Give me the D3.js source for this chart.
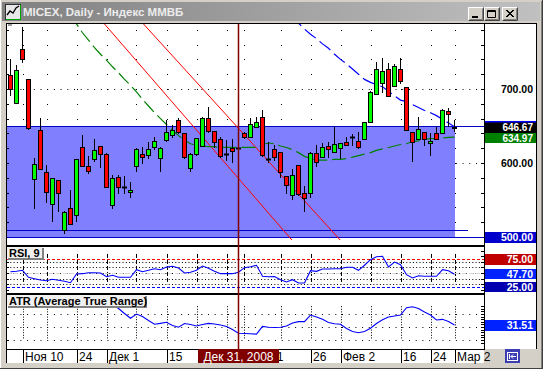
<!DOCTYPE html>
<html><head><meta charset="utf-8">
<script src="https://cdn.jsdelivr.net/npm/d3@7"></script>
<style>body{margin:0;background:#d4d0c8;overflow:hidden}svg{display:block}</style>
</head><body><svg id="c" width="543" height="369"></svg>
<script>
// ---------------- DATA ----------------
const title = "MICEX, Daily - Индекс ММВБ";
const openP  = [718.9,680.6,753.6,713.1,577.9,644.6,587.4,544.1,576.6,509.4,538.7,529.2,621.2,595.9,605.0,623.0,612.1,542.8,580.6,568.0,560.3,595.9,611.7,610.8,621.2,606.3,631.0,637.4,658.1,640.0,592.8,611.7,623.4,660.4,643.2,631.9,612.6,619.8,620.3,640.0,635.5,649.1,661.7,605.0,618.4,614.4,582.4,556.7,596.8,559.0,559.0,613.9,608.5,623.0,614.4,619.8,627.9,634.7,630.2,631.9,655.9,693.2,707.7,726.6,704.0,726.6,703.1,642.3,632.4,641.4,626.6,640.0,640.0,670.2,649.0];
const highP  = [740.1,732.4,783.3,713.1,607.2,660.4,597.3,579.3,576.6,535.1,563.5,605.0,637.8,609.4,632.4,623.0,613.9,583.8,583.3,582.4,573.8,619.8,622.0,628.8,635.5,622.0,658.1,651.3,660.4,640.0,613.1,633.3,661.7,675.2,643.2,635.5,631.0,632.4,622.0,641.4,660.4,661.7,671.6,627.9,624.3,614.4,582.4,591.4,596.8,569.3,614.4,624.3,627.4,628.8,649.1,627.4,634.7,639.2,642.3,655.9,697.3,736.0,741.4,734.7,733.8,741.4,703.1,642.3,662.6,641.4,640.0,649.1,672.9,673.9,658.1];
const lowP   = [691.9,680.6,737.0,645.5,538.7,591.4,547.7,522.0,535.6,505.0,517.5,522.0,595.9,586.0,603.1,594.1,567.1,539.6,559.0,559.0,554.5,589.6,600.4,606.3,618.4,589.6,630.1,634.7,640.0,606.3,589.6,610.8,623.4,642.3,622.0,608.5,604.0,601.8,616.6,633.3,635.5,648.2,609.4,601.8,604.0,581.5,559.0,550.9,556.7,535.6,554.5,596.4,607.6,608.5,614.4,606.3,624.3,624.3,619.8,631.9,655.9,693.2,696.4,690.5,704.0,707.7,644.6,603.1,632.4,624.3,610.8,632.4,640.0,650.4,643.7];
const closeP = [699.5,725.7,740.1,646.8,598.2,591.4,561.2,579.3,559.0,533.3,517.5,605.0,595.9,588.7,617.6,611.7,567.1,579.3,567.1,568.0,563.5,618.9,607.6,618.4,629.7,619.8,641.4,644.6,641.4,607.6,611.7,633.3,660.4,643.7,627.9,609.4,612.6,615.7,620.3,634.7,652.2,654.9,610.3,605.0,608.5,588.2,570.2,583.3,557.6,553.1,613.1,601.8,621.2,618.4,625.2,626.5,624.8,634.7,622.0,654.9,696.4,726.6,724.3,690.5,731.1,711.2,644.6,627.9,645.5,631.9,629.7,632.4,671.6,666.2,646.67];
// green dashed average: first value belongs to bar 10
const maGreenStart = 10;
const maGreen = [800,788,776,766,756,747,739,730,722,713,705,696,686,677,668,660,652,644,637,631,626,624,623,622,622,621,621,621,621,621,621,621,625,627,626,623,621,618,614,609,606,604,604,604,605,605,606,608,610,612,614,617,619,621,623,625,626,629,630,632,633,633,634,634.5,634.97];
// blue dashed average: first value belongs to bar 47
const maBlueStart = 47;
const maBlue = [800,789,781,774,768,761,755,747,740,734,727,720,713,709,706,703,697,691,685,683,679,675,671,668,664,659,654,649];
const rsi = [52.3,53.2,54.8,42.3,39.8,37.5,36.3,38.8,37.0,35.2,32.7,48.2,48.8,50.5,50.5,50.0,43.4,45.9,42.3,42.3,42.3,55.9,52.3,54.8,57.7,55.9,60.7,62.0,58.9,50.0,51.3,54.8,62.5,58.4,53.0,48.8,48.8,48.8,51.3,59.5,61.3,63.8,44.1,43.4,43.8,38.0,33.9,38.0,32.1,32.1,54.1,53.0,57.1,57.1,57.7,57.7,60.2,60.2,54.8,63.8,73.8,79.1,79.8,60.7,69.6,64.8,47.0,41.1,45.2,44.1,44.1,44.1,55.9,54.1,47.7];
const atr = [70,68,68,66,64,63,62,61,60,59,58,57,55.8,52.7,50.0,48.2,48.2,47.9,44.2,40.4,36.7,40.0,38.1,35.0,32.1,32.8,33.6,31.2,29.8,32.7,31.9,30.8,31.9,32.8,32.3,31.5,30.4,28.1,25.2,25.0,24.8,24.5,30.5,29.8,29.6,29.8,30.8,33.1,34.1,34.1,39.2,37.7,36.0,33.5,32.5,32.1,28.8,26.5,25.6,26.5,29.0,32.7,35.5,37.7,38.5,39.2,44.8,45.6,44.2,41.5,39.2,35.4,35.9,34.2,31.51];
const dateTickIdx    = [2, 11, 16, 26, 39, 50, 55, 65, 70, 74];
const dateTickLabels = ["Ноя 10","24","Дек 1","15","Янв 11","26","Фев 2","16","24","Мар 2"];
const gridIdx = [2,6,11,16,21,26,31,36,39,45,50,55,60,65,70,74];
const cursorIdx = 38, cursorLabel = "Дек 31, 2008";
const priceTicks = [500, 600, 700];
const zoneTop = 650, zoneBottom = 500, zoneEndIdx = 74;
const hLineA = 509, hLineAEndIdx = 76.25;
const channel = [[15.67, 787.8, 46.9, 495.9], [22.17, 787.8, 54.95, 495.9]];
const rsiLevels = [75, 25];
const lastRsi = 47.70, lastAtr = 31.51, lastClose = 646.67, lastGreen = 634.97;

// ---------------- LAYOUT ----------------
const W = 543, H = 369;
const L = 7, R = 484, AXR = 536;
const PT = 24, PB = 245, RT = 247, RB = 293, AT = 295, AB = 349;
const svg = d3.select("#c");
const FONT = "'Liberation Sans', Arial, sans-serif";

const x  = d3.scaleLinear().domain([0, 74]).range([10.5, 454.5]);
const yP = d3.scaleLinear().domain([500, 700]).range([237, 89]);
const yR = d3.scaleLinear().domain([25, 75]).range([287, 259]);
const yA = d3.scaleLinear().domain([20, 40]).range([340, 314]);
const px = v => Math.round(v) + 0.5;

// window frame
svg.append("rect").attr("width", W).attr("height", H).attr("fill", "#d4d0c8");
svg.append("line").attr("x1",0.5).attr("y1",0).attr("x2",0.5).attr("y2",H).attr("stroke","#fff");
svg.append("line").attr("x1",W-0.5).attr("y1",0).attr("x2",W-0.5).attr("y2",H).attr("stroke","#404040");
svg.append("line").attr("x1",0).attr("y1",H-0.5).attr("x2",W).attr("y2",H-0.5).attr("stroke","#404040");
svg.append("line").attr("x1",W-1.5).attr("y1",1).attr("x2",W-1.5).attr("y2",H-1).attr("stroke","#808080");

// title bar
const defs = svg.append("defs");
const g = defs.append("linearGradient").attr("id","tb").attr("x1","0").attr("x2","1");
g.append("stop").attr("offset","0").attr("stop-color","#808080");
g.append("stop").attr("offset","1").attr("stop-color","#c0c0c0");
svg.append("rect").attr("x",2).attr("y",2).attr("width",W-5).attr("height",19).attr("fill","url(#tb)");
// icon
svg.append("rect").attr("x",5.5).attr("y",4.5).attr("width",15).attr("height",15).attr("fill","#e8e8e8").attr("stroke","#303030");
svg.append("path").attr("d","M6,19.5 H21 M20.5,5 V20").attr("stroke","#00a000").attr("stroke-width",1);
svg.append("path").attr("d","M7,15 L10,11 L13,13 L16,8 L19,6").attr("fill","none").attr("stroke","#000").attr("stroke-width",1.3);
svg.append("text").attr("x",23).attr("y",16).attr("font-family",FONT).attr("font-weight","bold")
  .attr("font-size","11.5px").attr("fill","#ececec").text(title);
// buttons
const btns = [{x:468, s:"min"},{x:484, s:"max"},{x:502, s:"close"}];
btns.forEach(b => {
  const gg = svg.append("g").attr("transform",`translate(${b.x},7)`);
  gg.append("rect").attr("width",16).attr("height",14).attr("fill","#d4d0c8");
  gg.append("path").attr("d","M0.5,13.5 V0.5 H15.5").attr("fill","none").attr("stroke","#fff");
  gg.append("path").attr("d","M0.5,13.5 H15.5 V0.5").attr("fill","none").attr("stroke","#404040");
  gg.append("path").attr("d","M1.5,12.5 H14.5 V1.5").attr("fill","none").attr("stroke","#808080");
  if (b.s==="min") gg.append("rect").attr("x",4).attr("y",9).attr("width",6).attr("height",2).attr("fill","#000");
  if (b.s==="max") gg.append("path").attr("d","M3.5,3.5 H11.5 V10.5 H3.5 Z M3.5,4.5 H11.5").attr("fill","none").attr("stroke","#000");
  if (b.s==="close") gg.append("path").attr("d","M4,3 L11,10 M11,3 L4,10 M5,3 L12,10 M12,3 L5,10").attr("stroke","#000").attr("stroke-width",1);
});

// chart body white areas
svg.append("rect").attr("x",L).attr("y",PT).attr("width",AXR-L).attr("height",AB-PT).attr("fill","#fff");
svg.append("rect").attr("x",L).attr("y",AB+1).attr("width",R-L).attr("height",13).attr("fill","#fff");
// borders
svg.append("rect").attr("x",L-1).attr("y",PT-1).attr("width",AXR-L+2).attr("height",1).attr("fill","#000");
svg.append("rect").attr("x",L-1).attr("y",PT-1).attr("width",1).attr("height",AB-PT+15).attr("fill","#000");
svg.append("rect").attr("x",R).attr("y",PT).attr("width",1).attr("height",AB-PT+1).attr("fill","#000");
svg.append("rect").attr("x",AXR).attr("y",PT-1).attr("width",1).attr("height",AB-PT+1).attr("fill","#000");
svg.append("rect").attr("x",L+1).attr("y",PT).attr("width",4).attr("height",2).attr("fill","#a0a0a0");

// clip paths
function clip(id, y0, y1) {
  defs.append("clipPath").attr("id", id).append("rect").attr("x", L).attr("y", y0).attr("width", R - L).attr("height", y1 - y0);
}
clip("cp", PT, PB); clip("cr", RT, RB); clip("ca", AT, AB);

// ---------------- PRICE PANEL ----------------
const pg = svg.append("g").attr("clip-path", "url(#cp)");
const priceMinor = d3.range(520, 781, 20);
// grid dots
gridIdx.forEach(i => priceMinor.forEach(v => {
  pg.append("rect").attr("x", Math.round(x(i))).attr("y", Math.round(yP(v))).attr("width",1).attr("height",1).attr("fill","#000");
}));
priceTicks.forEach(v => pg.append("line").attr("x1",L).attr("x2",R).attr("y1",px(yP(v))).attr("y2",px(yP(v)))
  .attr("stroke","#000").attr("stroke-dasharray","1,5.7"));
// zone
pg.append("rect").attr("x", L).attr("y", px(yP(zoneTop))).attr("width", x(zoneEndIdx) + 0.5 - L)
  .attr("height", px(yP(zoneBottom)) - px(yP(zoneTop))).attr("fill", "#8080ff");
[[zoneTop, R], [zoneBottom, R], [hLineA, x(hLineAEndIdx)]].forEach(([v, xe]) =>
  pg.append("line").attr("x1",L).attr("x2",xe).attr("y1",px(yP(v))).attr("y2",px(yP(v))).attr("stroke","#0000c8"));
// channel lines
channel.forEach(c => pg.append("line").attr("x1",x(c[0])).attr("y1",yP(c[1])).attr("x2",x(c[2])).attr("y2",yP(c[3]))
  .attr("stroke","#ff0000").attr("stroke-width",1));
// averages
const lineP = d3.line().x(d => x(d[0])).y(d => yP(d[1]));
pg.append("path").attr("d", lineP(maGreen.map((v,k)=>[k+maGreenStart, v]))).attr("fill","none")
  .attr("stroke","#008000").attr("stroke-width",1.2).attr("stroke-dasharray","14,5");
pg.append("path").attr("d", lineP(maBlue.map((v,k)=>[k+maBlueStart, v]))).attr("fill","none")
  .attr("stroke","#0000ff").attr("stroke-width",1.2).attr("stroke-dasharray","14,5");
// candles
closeP.forEach((c, i) => {
  const o = openP[i], cx = x(i);
  pg.append("line").attr("x1",cx).attr("x2",cx).attr("y1",Math.round(yP(highP[i]))).attr("y2",Math.round(yP(lowP[i]))+1).attr("stroke","#000");
  const t = px(yP(Math.max(o,c))), b = px(yP(Math.min(o,c)));
  if (b - t < 1) {
    pg.append("line").attr("x1",cx-2.5).attr("x2",cx+2.5).attr("y1",t).attr("y2",t).attr("stroke","#000").attr("stroke-width",2);
  } else {
    pg.append("rect").attr("x",cx-2).attr("y",t).attr("width",4).attr("height",b-t)
      .attr("fill", c >= o ? "#00ff00" : "#ff0000").attr("stroke","#000");
  }
});

// ---------------- RSI PANEL ----------------
const rg = svg.append("g").attr("clip-path","url(#cr)");
d3.range(30, 80, 10).forEach(v => rg.append("line").attr("x1",L).attr("x2",R).attr("y1",px(yR(v))).attr("y2",px(yR(v)))
  .attr("stroke","#000").attr("stroke-dasharray","1,2.3"));
gridIdx.forEach(i => rg.append("line").attr("x1",Math.round(x(i))+0.5).attr("x2",Math.round(x(i))+0.5)
  .attr("y1",yR(84)).attr("y2",yR(30)).attr("stroke","#000").attr("stroke-dasharray","4,2"));
rg.append("line").attr("x1",L).attr("x2",R).attr("y1",px(yR(50))).attr("y2",px(yR(50))).attr("stroke","#d8d8d8").attr("stroke-dasharray","4,3");
rg.append("line").attr("x1",L).attr("x2",R).attr("y1",px(yR(rsiLevels[0]))).attr("y2",px(yR(rsiLevels[0]))).attr("stroke","#ff0000").attr("stroke-dasharray","3,2");
rg.append("line").attr("x1",L).attr("x2",R).attr("y1",px(yR(rsiLevels[1]))).attr("y2",px(yR(rsiLevels[1]))).attr("stroke","#0000ff").attr("stroke-dasharray","3,2");
rg.append("path").attr("d", d3.line().x((d,i)=>x(i)).y(d=>yR(d))(rsi)).attr("fill","none").attr("stroke","#0000ff").attr("stroke-width",1.1);

// ---------------- ATR PANEL ----------------
const ag = svg.append("g").attr("clip-path","url(#ca)");
[20,30,40].forEach(v => ag.append("line").attr("x1",L).attr("x2",R).attr("y1",px(yA(v))).attr("y2",px(yA(v)))
  .attr("stroke","#000").attr("stroke-dasharray","1,5.7"));
gridIdx.forEach(i => ag.append("line").attr("x1",Math.round(x(i))+0.5).attr("x2",Math.round(x(i))+0.5)
  .attr("y1",yA(46)).attr("y2",yA(20)).attr("stroke","#000").attr("stroke-dasharray","1,1.6"));
ag.append("path").attr("d", d3.line().x((d,i)=>x(i)).y(d=>yA(d))(atr)).attr("fill","none").attr("stroke","#0000ff").attr("stroke-width",1.1);

// panel separators
svg.append("rect").attr("x",L).attr("y",PB).attr("width",R-L).attr("height",2).attr("fill","#000");
svg.append("rect").attr("x",L).attr("y",RB).attr("width",R-L).attr("height",2).attr("fill","#000");
svg.append("rect").attr("x",L).attr("y",AB).attr("width",R-L+1).attr("height",1).attr("fill","#000");

// cursor
svg.append("line").attr("x1",x(cursorIdx)).attr("x2",x(cursorIdx)).attr("y1",PT).attr("y2",AB)
  .attr("stroke","#800000").attr("stroke-width",1.5);

// ticks
priceMinor.forEach(v => {
  const yy = px(yP(v));
  svg.append("line").attr("x1",L).attr("x2",L+2).attr("y1",yy).attr("y2",yy).attr("stroke","#000");
  svg.append("line").attr("x1",R-3).attr("x2",R).attr("y1",yy).attr("y2",yy).attr("stroke","#000");
});
d3.range(20, 100, 10).forEach(v => {
  const yy = px(yR(v)); if (yy < RT || yy > RB) return;
  svg.append("line").attr("x1",L).attr("x2",L+2).attr("y1",yy).attr("y2",yy).attr("stroke","#000");
  svg.append("line").attr("x1",R-3).attr("x2",R).attr("y1",yy).attr("y2",yy).attr("stroke","#000");
});
d3.range(18, 48, 2).forEach(v => {
  const yy = px(yA(v));
  svg.append("line").attr("x1",R-3).attr("x2",R).attr("y1",yy).attr("y2",yy).attr("stroke","#000");
  if (v % 10 === 0) svg.append("line").attr("x1",L).attr("x2",L+2).attr("y1",yy).attr("y2",yy).attr("stroke","#000");
});

// panel titles
function panelTitle(txt, y0, w) {
  svg.append("rect").attr("x",8).attr("y",y0+1).attr("width",w+1).attr("height",12).attr("fill","#808080");
  svg.append("rect").attr("x",7).attr("y",y0).attr("width",w).attr("height",11).attr("fill","#f0f0f0");
  svg.append("text").attr("x",9).attr("y",y0+9.5).attr("font-family",FONT).attr("font-weight","bold")
    .attr("font-size","11px").attr("fill","#000").text(txt);
}
panelTitle("RSI, 9", RT, 35);
panelTitle("ATR (Average True Range)", AT, 138);

// ---------------- RIGHT AXIS LABELS ----------------
// box from y0 to y1, text baseline at yb
function box(y0, y1, bg) {
  svg.append("rect").attr("x",R+1).attr("y",y0).attr("width",AXR-R-1).attr("height",y1-y0).attr("fill",bg);
}
function txt(yb, s, fg, fs) {
  svg.append("text").attr("x",533).attr("y",yb).attr("text-anchor","end").attr("font-family",FONT)
    .attr("font-weight","bold").attr("font-size",(fs||10.5)+"px").attr("fill",fg).text(s);
}
function label(yc, s, bg, fg, h) {
  h = h || 11;
  if (bg) box(Math.round(yc-h/2), Math.round(yc-h/2)+h, bg);
  if (s) txt(yc+3.8, s, fg);
}
const f2 = d3.format(".2f");
priceTicks.forEach(v => label(yP(v), f2(v), null, "#000"));
label(yP(maBlue[maBlue.length-1]) , "", "#0000ff", "#fff");
// last close (black) and green average labels sit right against each other
const yc1 = yP(lastClose), yc2 = yP(lastGreen);
const mid = Math.round((yc1 + yc2) / 2 + 0.5);
box(mid, mid + 10, "#008000");
box(mid - 10.5, mid, "#000");
txt(mid - 1.8, f2(lastClose), "#fff", 10);
txt(mid + 9.2, f2(lastGreen), "#fff", 10);
label(yP(zoneBottom), f2(zoneBottom), "#0000cc", "#fff");
label(yR(rsiLevels[0]), f2(rsiLevels[0]), "#c00000", "#fff");
label(yR(lastRsi), f2(lastRsi), "#0022ff", "#fff", 10);
label(yR(rsiLevels[1]), f2(rsiLevels[1]), "#0000b0", "#fff", 10);
label(yA(lastAtr), f2(lastAtr), "#0022ff", "#fff");

// ---------------- DATE AXIS ----------------
const dg = svg.append("g");
const cw = 81, cx0 = x(cursorIdx) - cw/2, cx1 = x(cursorIdx) + cw/2;
dateTickIdx.forEach((i, k) => {
  const xx = Math.round(x(i)) + 0.5;
  let t0 = dateTickLabels[k], tx = xx + 1.5;
  if (xx > cx0 && xx < cx1) {
    // label starts under the cursor box: only the part to the right of the box stays visible
    const t = dg.append("text").attr("font-family",FONT).attr("font-size","12px").text(t0);
    let n = 0;
    while (n < t0.length && tx + t.node().getSubStringLength(0, n + 1) <= cx1 + 1) n++;
    const shift = n ? t.node().getSubStringLength(0, n) : 0;
    t.remove();
    t0 = t0.slice(n); tx = tx + shift;
    if (!t0) return;
  } else {
    dg.append("line").attr("x1",xx).attr("x2",xx).attr("y1",AB+1).attr("y2",AB+14).attr("stroke","#000");
  }
  dg.append("text").attr("x",tx).attr("y",AB+12).attr("font-family",FONT).attr("font-size","12px").attr("fill","#000").text(t0);
});
dg.append("rect").attr("x",cx0).attr("y",AB).attr("width",cw).attr("height",14).attr("fill","#800000");
dg.append("text").attr("x",x(cursorIdx)).attr("y",AB+12).attr("text-anchor","middle").attr("font-family",FONT)
  .attr("font-size","12px").attr("fill","#fff").text(cursorLabel);
// scroll button
svg.append("rect").attr("x",505).attr("y",349).attr("width",15).attr("height",14).attr("fill","#3c3cb4");
svg.append("rect").attr("x",507.5).attr("y",352.5).attr("width",10).attr("height",8).attr("fill","none").attr("stroke","#fff");
svg.append("path").attr("d","M509.5,354 V359 M516,356.5 H511 M513,354.5 L511,356.5 L513,358.5").attr("fill","none").attr("stroke","#fff");
</script></body></html>
